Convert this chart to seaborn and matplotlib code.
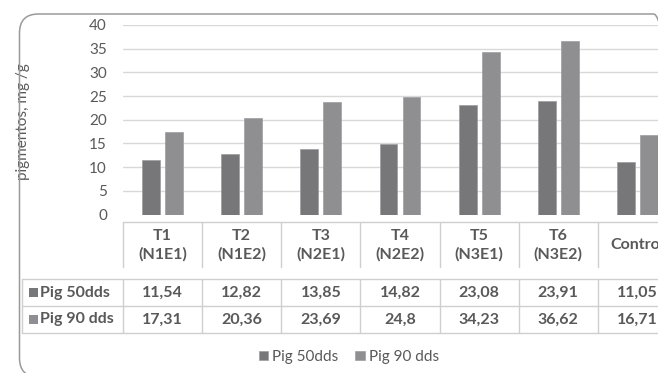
import matplotlib
matplotlib.use("Agg")
import matplotlib.pyplot as plt
import matplotlib.transforms as mtransforms
from matplotlib.patches import FancyBboxPatch, Rectangle
from matplotlib.lines import Line2D
import pandas as pd
import seaborn as sns

# Tratamientos y contenido de pigmentos (mg/g) a 50 y 90 dds
tratamientos = ["T1", "T2", "T3", "T4", "T5", "T6", "Control"]
encabezados = ["T1\n(N1E1)", "T2\n(N1E2)", "T3\n(N2E1)", "T4\n(N2E2)",
               "T5\n(N3E1)", "T6\n(N3E2)", "Control"]
series = ["Pig 50dds", "Pig 90 dds"]
pig_50 = [11.54, 12.82, 13.85, 14.82, 23.08, 23.91, 11.05]
pig_90 = [17.31, 20.36, 23.69, 24.8, 34.23, 36.62, 16.71]
y_ticks = [0, 5, 10, 15, 20, 25, 30, 35, 40]

colores = ["#76777b", "#8e8f93"]
texto = "#595959"
rejilla = "#d9d9d9"

df = pd.DataFrame({
    "trat": tratamientos * 2,
    "valor": pig_50 + pig_90,
    "serie": [series[0]] * len(tratamientos) + [series[1]] * len(tratamientos),
})

sns.set_theme(style="white")
plt.rcParams["font.family"] = ["Lato", "DejaVu Sans"]

W, H = 658, 373
fig = plt.figure(figsize=(W / 100, H / 100), dpi=100)
fig.patch.set_facecolor("white")

# plot area: x from 123 px to 677 px (last category runs off the right edge)
x0, x1 = 123, 677
y_top, y_zero = 25, 214.5
ax = fig.add_axes([x0 / W, 1 - y_zero / H, (x1 - x0) / W, (y_zero - y_top) / H])

sns.barplot(data=df, x="trat", y="valor", hue="serie", order=tratamientos,
            hue_order=series, palette=colores, width=0.58, gap=0.22,
            errorbar=None, edgecolor="#9c9da0", linewidth=0.5, ax=ax)

ax.set_xlim(-0.5, len(tratamientos) - 0.5)
ax.set_ylim(0, 40)
ax.set_yticks(y_ticks)
ax.set_xticks([])
ax.set_xlabel("")
for s in ax.spines.values():
    s.set_visible(False)
ax.yaxis.grid(True, color=rejilla, linewidth=1.0)
ax.set_axisbelow(True)
ax.get_ygridlines()[0].set_visible(False)
ax.tick_params(axis="y", length=0, pad=11.5, labelsize=11, labelcolor=texto)
ax.set_ylabel("pigmentos, mg /g", fontsize=11, color=texto)
ax.yaxis.set_label_coords(-0.168, 0.49)

# legend below the data table
sns.move_legend(ax, "center", bbox_to_anchor=(349 / W, 1 - 357 / H),
                bbox_transform=fig.transFigure, ncol=2, frameon=False,
                title=None, fontsize=11, labelcolor=texto,
                handlelength=0.6, handleheight=0.6, handletextpad=0.3,
                columnspacing=1.1)

# data table beneath the axis
blend = mtransforms.blended_transform_factory(ax.transData, fig.transFigure)
linea = dict(color="#cfcfcf", linewidth=1.0, clip_on=False)


def fy(py):
    return 1 - py / H


n = len(tratamientos)
bordes = [i - 0.5 for i in range(n + 1)]

# header row with treatment names
fig.add_artist(Line2D([-0.5, n - 0.5], [fy(222), fy(222)], transform=blend, **linea))
for b in bordes:
    fig.add_artist(Line2D([b, b], [fy(222), fy(267)], transform=blend, **linea))
for i, lab in enumerate(encabezados):
    ax.text(i, fy(245), lab, transform=blend, ha="center", va="center",
            fontsize=11.5, fontweight="bold", color=texto, linespacing=1.35,
            clip_on=False)

# value rows
for py in (279, 306, 333):
    fig.add_artist(Line2D([22 / W, 1.05], [fy(py), fy(py)],
                          transform=fig.transFigure, **linea))
fig.add_artist(Line2D([22 / W, 22 / W], [fy(279), fy(333)],
                      transform=fig.transFigure, **linea))
for b in bordes:
    fig.add_artist(Line2D([b, b], [fy(279), fy(333)], transform=blend, **linea))

for fila, (nombre, vals, col) in enumerate(zip(series, [pig_50, pig_90], colores)):
    yc = 292.5 + 27 * fila
    fig.add_artist(Rectangle((29 / W, fy(yc + 4.5)), 9 / W, 9 / H,
                             transform=fig.transFigure, facecolor=col,
                             edgecolor="none"))
    fig.text(40 / W, fy(yc), nombre, ha="left", va="center", fontsize=11.5,
             fontweight="bold", color=texto)
    for i, v in enumerate(vals):
        ax.text(i, fy(yc), str(v).replace(".", ","), transform=blend,
                ha="center", va="center", fontsize=11.5, fontweight="bold",
                color=texto, clip_on=False)

# rounded chart frame
marco = FancyBboxPatch((19.5, -4), 653, H - 14 + 4,
                       boxstyle="round,pad=0,rounding_size=19",
                       transform=mtransforms.IdentityTransform(),
                       facecolor="none", edgecolor="#9a9a9a", linewidth=1.1)
fig.add_artist(marco)

fig.savefig("out.png", dpi=100)
